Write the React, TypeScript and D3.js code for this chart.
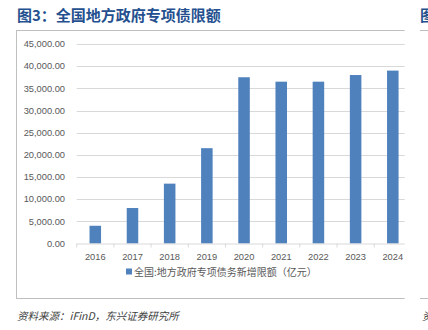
import React from "react";
import * as d3 from "d3";

const years = ["2016", "2017", "2018", "2019", "2020", "2021", "2022", "2023", "2024"];
const quota = [4000, 8000, 13500, 21500, 37500, 36500, 36500, 38000, 39000];
const yTicks = [0, 5000, 10000, 15000, 20000, 25000, 30000, 35000, 40000, 45000];
const title = "图3：全国地方政府专项债限额";
const seriesName = "全国:地方政府专项债务新增限额（亿元）";
const source = "资料来源：iFinD，东兴证券研究所";

export default function App() {
  const W = 428, H = 330;
  const plotLeft = 76.7, plotRight = 411.4, plotTop = 44, plotBottom = 243.5;
  const x = d3.scaleBand<string>().domain(years).range([plotLeft, plotRight]).paddingInner(0.69).paddingOuter(0.345);
  const y = d3.scaleLinear().domain([0, 45000]).range([plotBottom, plotTop]);
  const fmt = d3.format(",.2f");
  const step = x.step();
  const frameRight = 404.7;
  return (
    <svg width={W} height={H} style={{ position: "absolute", left: 0, top: 0, background: "#fff" }}>
      <defs>
        <clipPath id="frameClip">
          <rect x={16} y={30} width={frameRight - 16} height={270} />
        </clipPath>
      </defs>
      <text x={17} y={21} fontFamily="'Noto Sans CJK SC', sans-serif" fontWeight="bold" fontSize={15} fill="#24508f">{title}</text>
      <text x={420} y={21} fontFamily="'Noto Sans CJK SC', sans-serif" fontWeight="bold" fontSize={15} fill="#24508f">图</text>
      <line x1={16} x2={frameRight} y1={30.5} y2={30.5} stroke="#bfbfbf" />
      <line x1={16.5} x2={16.5} y1={30} y2={299} stroke="#bfbfbf" />
      <line x1={16} x2={frameRight} y1={298.5} y2={298.5} stroke="#bfbfbf" />
      <line x1={420} x2={428} y1={30.5} y2={30.5} stroke="#bfbfbf" />
      <line x1={420} x2={428} y1={298.5} y2={298.5} stroke="#bfbfbf" />
      <g clipPath="url(#frameClip)">
        {yTicks.filter((t) => t > 0).map((t) => (
          <line key={t} x1={plotLeft} x2={plotRight} y1={Math.round(y(t)) + 0.5} y2={Math.round(y(t)) + 0.5} stroke="#d9d9d9" />
        ))}
        {years.map((yr, i) => (
          <rect key={yr} x={x(yr)} y={y(quota[i])} width={x.bandwidth()} height={plotBottom - y(quota[i])} fill="#4f81bd" />
        ))}
        <line x1={plotLeft} x2={plotRight} y1={plotBottom + 0.5} y2={plotBottom + 0.5} stroke="#d9d9d9" />
        {d3.range(years.length + 1).map((i) => (
          <line key={i} x1={plotLeft + i * step} x2={plotLeft + i * step} y1={plotBottom} y2={plotBottom + 4} stroke="#d9d9d9" />
        ))}
      </g>
      {yTicks.map((t) => (
        <text key={t} x={65} y={y(t)} dy="0.35em" textAnchor="end" fontFamily="'Liberation Sans', Arial, sans-serif" fontSize={9.3} fill="#595959">{fmt(t)}</text>
      ))}
      {years.map((yr) => (
        <text key={yr} x={(x(yr) as number) + x.bandwidth() / 2} y={260} textAnchor="middle" fontFamily="'Liberation Sans', Arial, sans-serif" fontSize={9.3} fill="#595959">{yr}</text>
      ))}
      <rect x={126} y={268.5} width={6} height={6} fill="#4f81bd" />
      <text x={134} y={275.5} fontFamily="'Noto Sans CJK SC', sans-serif" fontSize={10} fill="#595959">{seriesName}</text>
      <text x={17} y={320} fontFamily="'Noto Sans CJK SC', sans-serif" fontStyle="italic" fontSize={10.5} fill="#404040">{source}</text>
      <text x={422} y={320} fontFamily="'Noto Sans CJK SC', sans-serif" fontStyle="italic" fontSize={10.5} fill="#404040">资</text>
    </svg>
  );
}
